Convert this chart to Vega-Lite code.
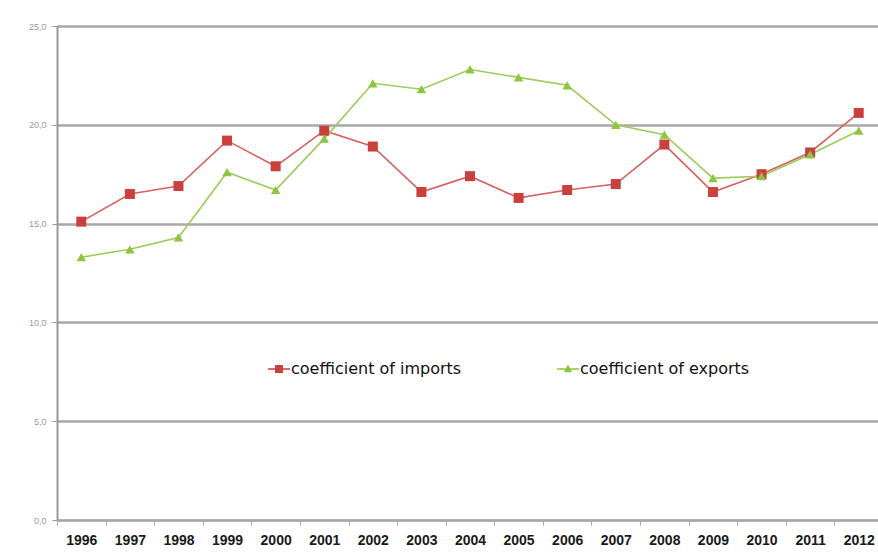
{
  "$schema": "https://vega.github.io/schema/vega-lite/v6.json",
  "width": 826,
  "height": 494,
  "autosize": {"type": "none"},
  "padding": {"left": 57, "top": 26, "right": 0, "bottom": 34},
  "background": "white",
  "config": {
    "view": {"stroke": null},
    "font": "Liberation Sans"
  },
  "data": {
    "values": [
      {"year": "1996", "series": "coefficient of imports", "value": 15.1},
      {"year": "1997", "series": "coefficient of imports", "value": 16.5},
      {"year": "1998", "series": "coefficient of imports", "value": 16.9},
      {"year": "1999", "series": "coefficient of imports", "value": 19.2},
      {"year": "2000", "series": "coefficient of imports", "value": 17.9},
      {"year": "2001", "series": "coefficient of imports", "value": 19.7},
      {"year": "2002", "series": "coefficient of imports", "value": 18.9},
      {"year": "2003", "series": "coefficient of imports", "value": 16.6},
      {"year": "2004", "series": "coefficient of imports", "value": 17.4},
      {"year": "2005", "series": "coefficient of imports", "value": 16.3},
      {"year": "2006", "series": "coefficient of imports", "value": 16.7},
      {"year": "2007", "series": "coefficient of imports", "value": 17.0},
      {"year": "2008", "series": "coefficient of imports", "value": 19.0},
      {"year": "2009", "series": "coefficient of imports", "value": 16.6},
      {"year": "2010", "series": "coefficient of imports", "value": 17.5},
      {"year": "2011", "series": "coefficient of imports", "value": 18.6},
      {"year": "2012", "series": "coefficient of imports", "value": 20.6},
      {"year": "1996", "series": "coefficient of exports", "value": 13.3},
      {"year": "1997", "series": "coefficient of exports", "value": 13.7},
      {"year": "1998", "series": "coefficient of exports", "value": 14.3},
      {"year": "1999", "series": "coefficient of exports", "value": 17.6},
      {"year": "2000", "series": "coefficient of exports", "value": 16.7},
      {"year": "2001", "series": "coefficient of exports", "value": 19.3},
      {"year": "2002", "series": "coefficient of exports", "value": 22.1},
      {"year": "2003", "series": "coefficient of exports", "value": 21.8},
      {"year": "2004", "series": "coefficient of exports", "value": 22.8},
      {"year": "2005", "series": "coefficient of exports", "value": 22.4},
      {"year": "2006", "series": "coefficient of exports", "value": 22.0},
      {"year": "2007", "series": "coefficient of exports", "value": 20.0},
      {"year": "2008", "series": "coefficient of exports", "value": 19.5},
      {"year": "2009", "series": "coefficient of exports", "value": 17.3},
      {"year": "2010", "series": "coefficient of exports", "value": 17.4},
      {"year": "2011", "series": "coefficient of exports", "value": 18.5},
      {"year": "2012", "series": "coefficient of exports", "value": 19.7}
    ]
  },
  "encoding": {
    "x": {
      "field": "year", "type": "ordinal", "title": null,
      "scale": {"type": "band", "paddingInner": 0, "paddingOuter": 0},
      "axis": {
        "labelAngle": 0, "tickBand": "extent", "domainColor": "#a8a8a8", "domainWidth": 2,
        "tickColor": "#a8a8a8", "tickSize": 5, "labelFontSize": 14, "labelFontWeight": "bold",
        "labelColor": "#1a1a1a", "labelPadding": 8, "grid": false
      }
    },
    "y": {
      "field": "value", "type": "quantitative", "title": null,
      "scale": {"domain": [0, 25], "nice": false, "zero": true},
      "axis": {
        "values": [0, 5, 10, 15, 20, 25],
        "labelExpr": "replace(format(datum.value, '.1f'), '.', ',')",
        "labelFontSize": 9, "labelColor": "#9a9a9a", "labelPadding": 6,
        "domainColor": "#9a9a9a", "domainWidth": 2, "tickColor": "#9a9a9a", "tickSize": 5,
        "gridColor": "#a8a8a8", "gridWidth": 2.5
      }
    }
  },
  "layer": [
    {
      "mark": {"type": "line", "strokeWidth": 1.6},
      "encoding": {
        "color": {
          "field": "series", "type": "nominal",
          "scale": {"domain": ["coefficient of imports", "coefficient of exports"], "range": ["#d8605d", "#9ccc5a"]},
          "legend": null
        },
        "detail": {"field": "series"}
      }
    },
    {
      "transform": [{"filter": "datum.series === 'coefficient of imports'"}],
      "mark": {"type": "point", "filled": true, "opacity": 1, "size": 100, "shape": "square", "color": "#c9403c"},
      "encoding": {}
    },
    {
      "transform": [{"filter": "datum.series === 'coefficient of exports'"}],
      "mark": {"type": "point", "filled": true, "opacity": 1, "size": 90, "shape": "triangle-up", "color": "#8cc63f"},
      "encoding": {}
    },
    {
      "transform": [{"filter": "datum.series === 'coefficient of imports'"}],
      "mark": {"type": "point", "filled": true, "opacity": 0, "size": 100},
      "encoding": {
        "fill": {
          "field": "series", "type": "nominal",
          "scale": {"domain": ["coefficient of imports"], "range": ["#c9403c"]},
          "legend": {
            "title": null, "orient": "none", "direction": "horizontal",
            "legendX": 211, "legendY": 332, "labelFontSize": 16, "labelColor": "#111",
            "labelFont": "DejaVu Sans", "labelLimit": 400, "symbolSize": 484, "labelOffset": 1,
            "symbolType": "M-1,-0.07H1V0.07H-1ZM-0.36,-0.36H0.36V0.36H-0.36Z",
            "symbolStrokeWidth": 0, "symbolOpacity": 1
          }
        }
      }
    },
    {
      "transform": [{"filter": "datum.series === 'coefficient of exports'"}],
      "mark": {"type": "point", "filled": true, "opacity": 0, "size": 100},
      "encoding": {
        "fill": {
          "field": "series", "type": "nominal",
          "scale": {"domain": ["coefficient of exports"], "range": ["#8cc63f"]},
          "legend": {
            "title": null, "orient": "none", "direction": "horizontal",
            "legendX": 500, "legendY": 332, "labelFontSize": 16, "labelColor": "#111",
            "labelFont": "DejaVu Sans", "labelLimit": 400, "symbolSize": 484, "labelOffset": 1,
            "symbolType": "M-1,-0.07H1V0.07H-1ZM0,-0.4L0.38,0.3H-0.38Z",
            "symbolStrokeWidth": 0, "symbolOpacity": 1
          }
        }
      }
    }
  ],
  "resolve": {"scale": {"fill": "independent"}, "legend": {"fill": "independent"}}
}
